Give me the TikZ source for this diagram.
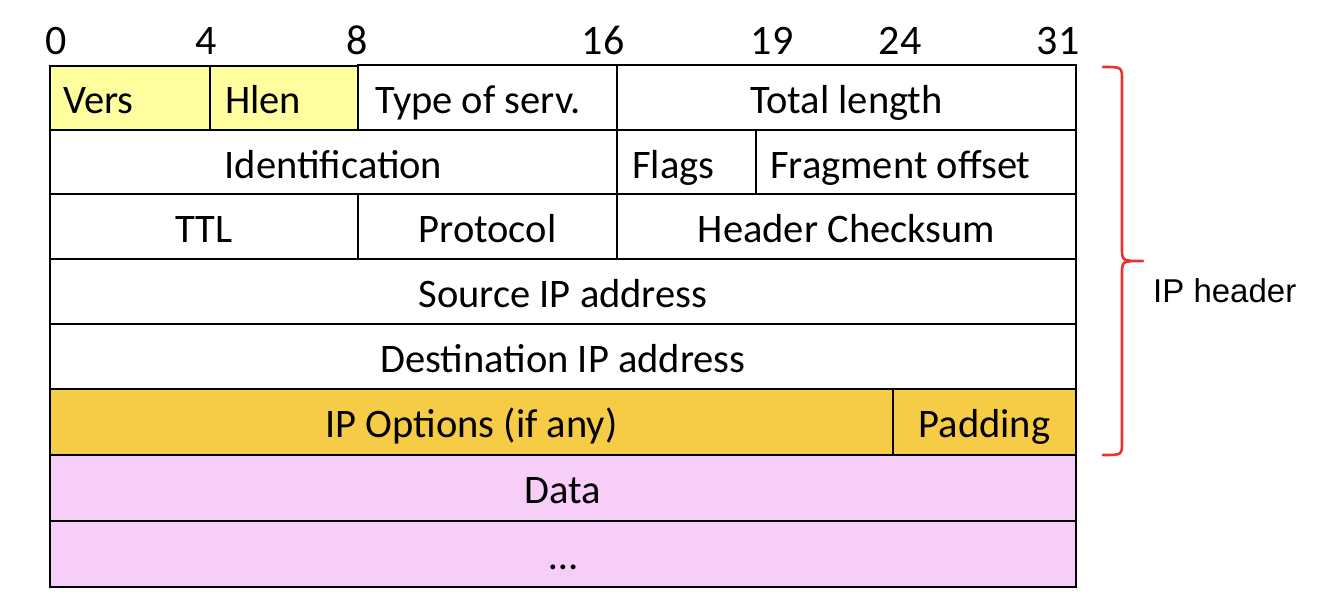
\documentclass[tikz,border=0pt]{standalone}
\usepackage{fontspec}
\setmainfont{Carlito}
\newfontfamily\helv{Liberation Sans}
\definecolor{paleyellow}{RGB}{255,255,160}
\definecolor{gold}{RGB}{246,204,70}
\definecolor{pinkdata}{RGB}{246,206,248}
\definecolor{bracered}{RGB}{232,52,44}
\tikzset{
  field/.style={draw=black, line width=2.6pt, inner sep=0pt, outer sep=0pt, anchor=north west, fill=white},
  lbl/.style={inner sep=0pt, font=\fontsize{40.5}{48}\selectfont},
  bitnum/.style={inner sep=0pt, anchor=base, font=\fontsize{42}{48}\selectfont},
  bracestyle/.style={draw=bracered, line width=2.6pt, line cap=round, line join=round},
}
\begin{document}
\begin{tikzpicture}[x=1pt,y=-1pt]
\useasboundingbox (0,0) rectangle (1320,614);

% bit numbers
\node[bitnum] (b0)  at (56,54)   {0};
\node[bitnum] (b4)  at (206,54)  {4};
\node[bitnum] (b8)  at (357,54)  {8};
\node[bitnum] (b16) at (603,54)  {16};
\node[bitnum] (b19) at (772,54)  {19};
\node[bitnum] (b24) at (900,54)  {24};
\node[bitnum] (b31) at (1058,54) {31};

% row 1
\node[field, fill=paleyellow, minimum width=160, minimum height=66] (vers) at (50,66) {};
\node[field, fill=paleyellow, minimum width=148, minimum height=66] (hlen) at (210,66) {};
\node[field, minimum width=259, minimum height=65] (tos) at (358,65) {};
\node[field, minimum width=459, minimum height=65] (tlen) at (617,65) {};
% row 2
\node[field, minimum width=567, minimum height=64] (ident) at (50,130) {};
\node[field, minimum width=139, minimum height=64] (flags) at (617,130) {};
\node[field, minimum width=320, minimum height=64] (frag) at (756,130) {};
% row 3
\node[field, minimum width=308, minimum height=65] (ttl) at (50,194) {};
\node[field, minimum width=259, minimum height=65] (proto) at (358,194) {};
\node[field, minimum width=459, minimum height=65] (csum) at (617,194) {};
% row 4, 5
\node[field, minimum width=1026, minimum height=65] (src) at (50,259) {};
\node[field, minimum width=1026, minimum height=65] (dst) at (50,324) {};
% row 6
\node[field, fill=gold, minimum width=843, minimum height=66] (opts) at (50,389) {};
\node[field, fill=gold, minimum width=183, minimum height=66] (pad) at (893,389) {};
% data
\node[field, fill=pinkdata, minimum width=1026, minimum height=66] (data) at (50,455) {};
\node[field, fill=pinkdata, minimum width=1026, minimum height=66] (more) at (50,521) {};

% labels
\node[lbl, anchor=base west] at ([xshift=13pt, yshift=-47pt]vers.north west) {Vers};
\node[lbl, anchor=base west] at ([xshift=15pt, yshift=-47pt]hlen.north west) {Hlen};
\node[lbl, anchor=base west] at ([xshift=17pt, yshift=-48pt]tos.north west) {Type of serv.};
\node[lbl, anchor=base] at ([yshift=-48pt]tlen.north) {Total length};
\node[lbl, anchor=base] at ([yshift=-48pt]ident.north) {Identification};
\node[lbl, anchor=base west] at ([xshift=15pt, yshift=-48pt]flags.north west) {Flags};
\node[lbl, anchor=base west] at ([xshift=14pt, yshift=-48pt]frag.north west) {Fragment offset};
\node[lbl, anchor=base] at ([yshift=-48pt]ttl.north) {TTL};
\node[lbl, anchor=base] at ([yshift=-48pt]proto.north) {Protocol};
\node[lbl, anchor=base] at ([yshift=-48pt]csum.north) {Header Checksum};
\node[lbl, anchor=base] at ([yshift=-48pt]src.north) {Source IP address};
\node[lbl, anchor=base] at ([yshift=-48pt]dst.north) {Destination IP address};
\node[lbl, anchor=base] at ([yshift=-48pt]opts.north) {IP Options (if any)};
\node[lbl, anchor=base] at ([yshift=-48pt]pad.north) {Padding};
\node[lbl, anchor=base] at ([yshift=-48pt]data.north) {Data};
\node[lbl, anchor=base] at ([yshift=-48pt]more.north) {\dots};

% brace
\coordinate (btop) at (1103,67);
\coordinate (btip) at (1143,261);
\coordinate (bbot) at (1103,455);
\draw[bracestyle] (btop) .. controls (1122,67) .. (1122,80) -- (1122,248)
  .. controls (1122,261) .. (btip)
  .. controls (1122,261) .. (1122,274) -- (1122,442)
  .. controls (1122,455) .. (bbot);
\node[inner sep=0pt, anchor=base west, font=\helv\fontsize{33}{40}\selectfont] (iph) at (1153,302) {IP header};
\end{tikzpicture}
\end{document}
